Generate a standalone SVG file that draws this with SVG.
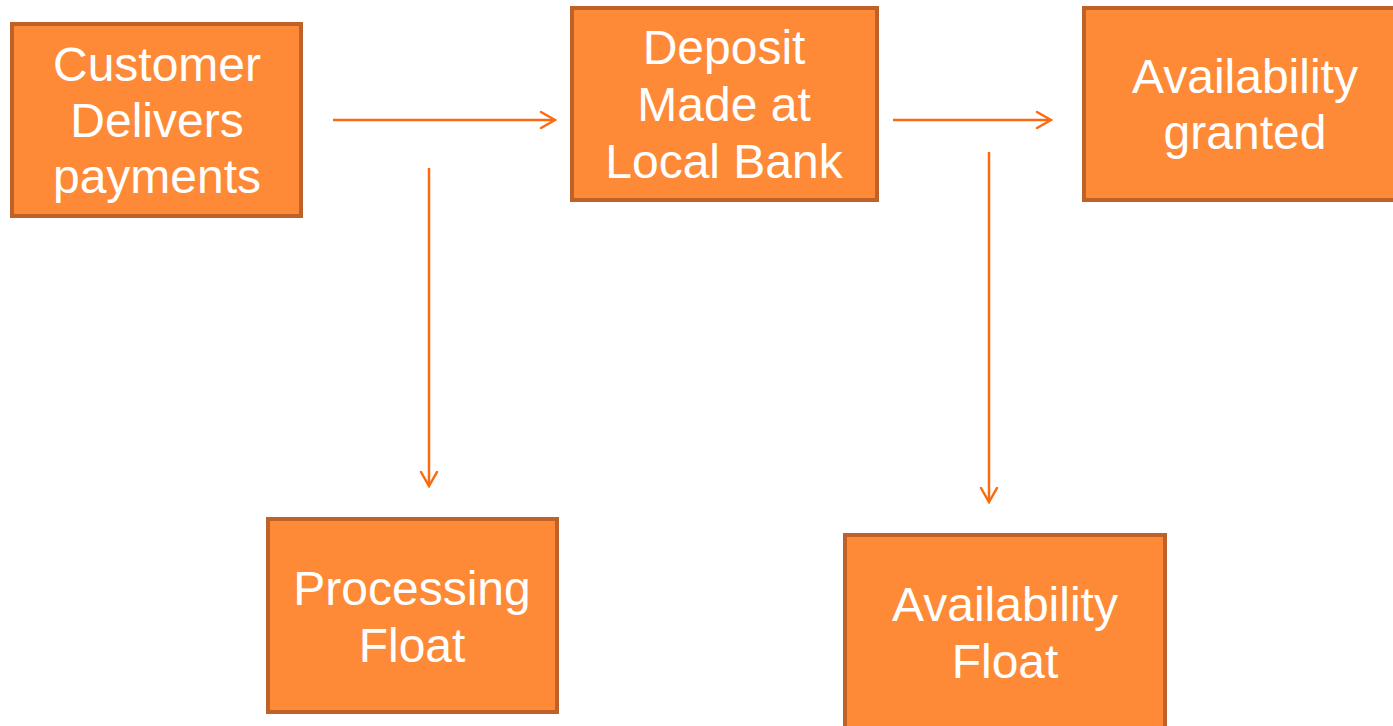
<svg xmlns="http://www.w3.org/2000/svg" width="1393" height="726" viewBox="0 0 1393 726">
<defs>
<style>
.box{fill:#FE8A38;stroke:#BF622A;stroke-width:4}
.t{font-family:"Liberation Sans",Arial,sans-serif;font-size:48px;fill:#FFFFFF;text-anchor:middle}
.c{stroke:#FA6A10;stroke-width:2.5;fill:none}
</style>
<marker id="ah" viewBox="0 0 20 20" refX="18" refY="10" markerWidth="20" markerHeight="20" markerUnits="userSpaceOnUse" orient="auto">
<path d="M4,2 L18,10 L4,18" fill="none" stroke="#FA6A10" stroke-width="2.5" stroke-linecap="round"/>
</marker>
</defs>
<rect width="1393" height="726" fill="#FFFFFF"/>
<g id="connectors">
<line class="c" x1="333" y1="120" x2="555" y2="120" marker-end="url(#ah)"/>
<line class="c" x1="893" y1="120" x2="1051" y2="120" marker-end="url(#ah)"/>
<line class="c" x1="429" y1="168" x2="429" y2="486" marker-end="url(#ah)"/>
<line class="c" x1="989" y1="152" x2="989" y2="502" marker-end="url(#ah)"/>
</g>
<g id="customer">
<rect class="box" x="12" y="24" width="289" height="192"/>
<text class="t" x="157" y="81">Customer</text>
<text class="t" x="157" y="137">Delivers</text>
<text class="t" x="157" y="193">payments</text>
</g>
<g id="deposit">
<rect class="box" x="572" y="8" width="305" height="192"/>
<text class="t" x="724" y="64">Deposit</text>
<text class="t" x="724" y="121">Made at</text>
<text class="t" x="724" y="178">Local Bank</text>
</g>
<g id="granted">
<rect class="box" x="1084" y="8" width="315" height="192"/>
<text class="t" x="1245" y="93">Availability</text>
<text class="t" x="1245" y="149">granted</text>
</g>
<g id="processing">
<rect class="box" x="268" y="519" width="289" height="193"/>
<text class="t" x="412" y="605">Processing</text>
<text class="t" x="412" y="662">Float</text>
</g>
<g id="availfloat">
<rect class="box" x="845" y="535" width="320" height="200"/>
<text class="t" x="1005" y="621">Availability</text>
<text class="t" x="1005" y="678">Float</text>
</g>
</svg>
